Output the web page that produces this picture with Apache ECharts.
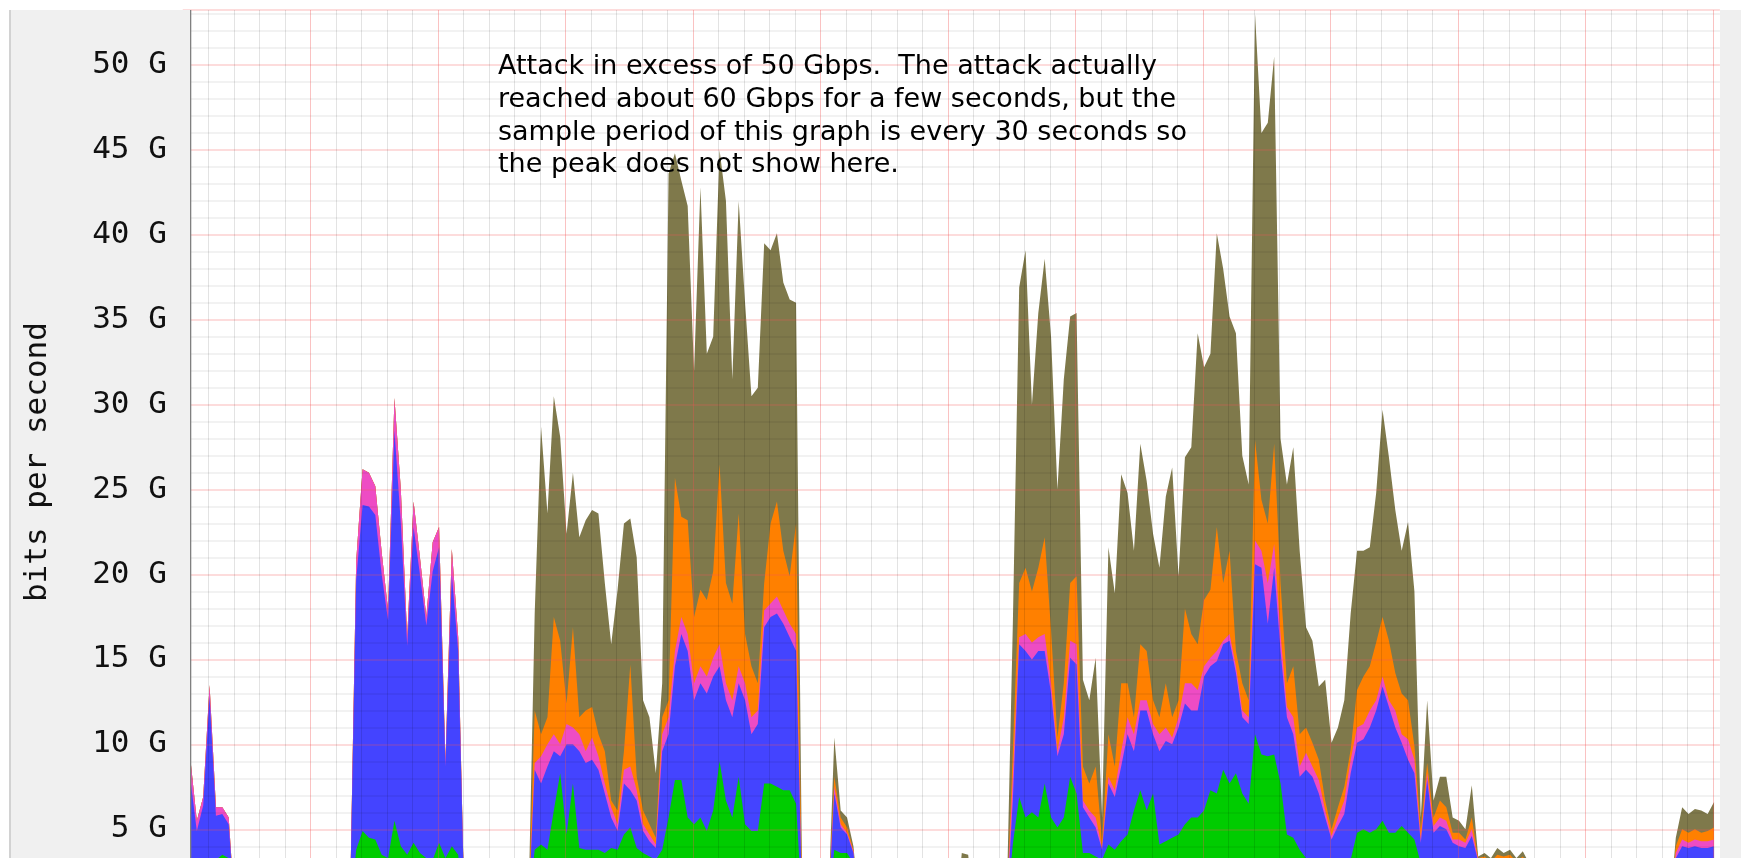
<!DOCTYPE html>
<html>
<head>
<meta charset="utf-8">
<script src="https://cdn.jsdelivr.net/npm/echarts@6/dist/echarts.min.js"></script>
<style>
  html, body { margin: 0; padding: 0; background: #fff; }
  #chart { width: 1741px; height: 858px; }
</style>
</head>
<body>
<div id="chart"></div>
<script>
// samples are taken every quarter of a minor grid step, starting just right of the axis
const sampleStart = 0.3
const sampleStep = 0.25

// cumulative tops of the stacked traffic, in Gbit/s
const totalTop = [
  9.1, 5.5, 6.9, 13.5, 6.3, 6.3, 5.7, 0, 0, 0, 0, 0, 0, 0, 0, 0, 0, 0, 0, 0,
  0, 0, 0, 0, 0, 0, 20.8, 26.2, 26.0, 25.2, 21.3, 17.9, 30.4, 25.0, 16.3, 24.3, 21.0, 17.5, 21.9, 22.8,
  9.0, 21.5, 16.3, 0, 0, 0, 0, 0, 0, 0, 0, 0, 0, 0, 17.7, 28.7, 23.6, 30.5, 28.1, 22.4,
  26.0, 22.2, 23.2, 23.8, 23.6, 19.5, 15.9, 19.1, 23.0, 23.3, 21.0, 12.6, 11.6, 8.3, 13.6, 43.6, 44.8, 43.2, 41.7, 32.0,
  42.8, 33.0, 34.0, 45.0, 42.0, 31.5, 42.0, 36.0, 30.5, 31.0, 39.5, 39.1, 40.1, 37.2, 36.2, 36.0, 0, 0, 0, 0,
  0, 10.4, 6.1, 5.7, 4.0, 0, 0, 0, 0, 0, 0, 0, 0, 0, 0, 0, 0, 0, 0, 0,
  0, 3.6, 3.5, 0, 0, 0, 0, 0, 0, 17.0, 36.9, 39.1, 30.0, 35.4, 38.6, 34.0, 25.0, 31.5, 35.2, 35.4,
  13.8, 12.6, 15.1, 5.7, 21.6, 18.9, 25.9, 24.8, 21.4, 27.7, 25.5, 22.4, 20.4, 24.6, 26.3, 19.9, 26.9, 27.5, 34.2, 32.2,
  33.0, 40.1, 38.0, 35.2, 34.2, 27.0, 25.3, 53.0, 46.0, 46.6, 50.5, 28.0, 25.3, 27.5, 21.4, 16.9, 16.1, 13.4, 13.8, 10.1,
  11.0, 12.6, 17.7, 21.4, 21.4, 21.6, 24.8, 29.7, 26.9, 23.8, 21.4, 23.1, 19.0, 5.7, 12.6, 6.7, 8.1, 8.1, 5.7, 5.5,
  5.0, 7.6, 3.4, 3.6, 3.3, 3.9, 3.6, 3.8, 3.3, 3.7, 3.0, 0, 0, 0, 0, 0, 0, 0, 0, 0,
  0, 0, 0, 0, 0, 0, 0, 0, 0, 0, 0, 0, 0, 4.5, 6.3, 5.9, 6.2, 6.1, 5.9, 6.6
]
const orangeTop = [
  9.1, 5.5, 6.9, 13.5, 6.3, 6.3, 5.7, 0, 0, 0, 0, 0, 0, 0, 0, 0, 0, 0, 0, 0,
  0, 0, 0, 0, 0, 0, 20.8, 26.2, 26.0, 25.2, 21.3, 17.9, 30.4, 25.0, 16.3, 24.3, 21.0, 17.5, 21.9, 22.8,
  9.0, 21.5, 16.3, 0, 0, 0, 0, 0, 0, 0, 0, 0, 0, 0, 12.0, 10.6, 11.6, 17.5, 16.1, 12.4,
  16.9, 11.6, 12.0, 12.2, 10.6, 9.6, 6.7, 6.1, 9.6, 14.7, 8.1, 6.1, 5.3, 4.5, 11.6, 12.6, 25.7, 23.4, 23.2, 17.5,
  19.1, 18.5, 20.2, 26.5, 19.5, 18.3, 23.6, 16.5, 14.6, 13.6, 19.5, 23.0, 24.3, 21.4, 19.9, 23.0, 0, 0, 0, 0,
  0, 8.1, 5.7, 5.1, 3.8, 0, 0, 0, 0, 0, 0, 0, 0, 0, 0, 0, 0, 0, 0, 0,
  0, 2.0, 2.0, 0, 0, 0, 0, 0, 0, 9.6, 19.5, 20.4, 19.0, 20.4, 22.2, 16.7, 10.4, 13.6, 19.5, 19.9,
  8.7, 7.7, 8.7, 4.3, 10.6, 8.7, 13.6, 13.6, 11.6, 15.9, 15.5, 12.6, 11.6, 13.6, 11.6, 12.6, 18.0, 16.5, 15.9, 18.5,
  19.1, 22.8, 19.5, 21.4, 15.5, 13.6, 12.6, 27.9, 24.4, 23.0, 27.7, 19.5, 13.6, 14.6, 10.6, 11.0, 10.1, 9.1, 6.7, 5.0,
  6.3, 7.5, 9.7, 13.2, 14.0, 14.6, 16.0, 17.5, 16.1, 14.2, 13.0, 12.6, 9.9, 5.0, 8.9, 5.7, 6.7, 6.3, 4.8, 4.8,
  4.4, 5.7, 3.3, 3.4, 3.1, 3.5, 3.4, 3.5, 3.1, 3.4, 2.8, 0, 0, 0, 0, 0, 0, 0, 0, 0,
  0, 0, 0, 0, 0, 0, 0, 0, 0, 0, 0, 0, 0, 4.0, 5.0, 4.8, 5.0, 4.8, 4.9, 5.1
]
const pinkTop = [
  9.1, 5.5, 6.9, 13.5, 6.3, 6.3, 5.7, 0, 0, 0, 0, 0, 0, 0, 0, 0, 0, 0, 0, 0,
  0, 0, 0, 0, 0, 0, 20.8, 26.2, 26.0, 25.2, 21.3, 17.9, 30.4, 25.0, 16.3, 24.3, 21.0, 17.5, 21.9, 22.8,
  9.0, 21.5, 16.3, 0, 0, 0, 0, 0, 0, 0, 0, 0, 0, 0, 8.9, 9.3, 10.0, 10.6, 10.0, 11.2,
  11.0, 10.6, 9.6, 10.4, 9.3, 7.7, 6.3, 5.3, 8.5, 8.7, 7.3, 5.3, 4.7, 4.1, 10.6, 11.6, 15.5, 17.5, 16.5, 13.6,
  14.6, 14.0, 15.1, 15.9, 13.6, 12.6, 14.6, 13.6, 11.6, 12.0, 17.9, 18.3, 18.7, 17.9, 17.1, 16.5, 0, 0, 0, 0,
  0, 7.5, 5.3, 4.8, 3.7, 0, 0, 0, 0, 0, 0, 0, 0, 0, 0, 0, 0, 0, 0, 0,
  0, 2.0, 2.0, 0, 0, 0, 0, 0, 0, 8.1, 16.3, 16.5, 16.0, 16.3, 16.5, 13.6, 9.6, 11.6, 16.1, 15.9,
  6.7, 6.1, 5.7, 3.9, 8.1, 7.3, 9.6, 11.6, 10.6, 12.6, 12.6, 11.2, 10.6, 11.0, 10.4, 11.6, 13.6, 13.6, 13.2, 14.6,
  15.1, 15.5, 16.1, 16.5, 14.6, 12.0, 11.6, 22.0, 21.4, 19.5, 21.8, 16.5, 12.2, 11.6, 8.7, 9.5, 8.7, 7.9, 6.1, 4.6,
  5.7, 6.7, 9.1, 11.0, 11.2, 12.0, 12.6, 14.0, 12.6, 12.0, 10.6, 10.3, 9.1, 4.4, 8.3, 5.2, 5.7, 5.5, 4.4, 4.4,
  4.2, 5.0, 3.2, 3.2, 3.0, 3.3, 3.2, 3.3, 3.0, 3.2, 2.6, 0, 0, 0, 0, 0, 0, 0, 0, 0,
  0, 0, 0, 0, 0, 0, 0, 0, 0, 0, 0, 0, 0, 3.6, 4.4, 4.2, 4.4, 4.3, 4.3, 4.4
]
const blueTop = [
  7.9, 4.9, 6.4, 12.8, 5.8, 5.9, 5.3, 0, 0, 0, 0, 0, 0, 0, 0, 0, 0, 0, 0, 0,
  0, 0, 0, 0, 0, 0, 19.7, 24.1, 24.0, 23.5, 20.0, 17.3, 28.5, 23.0, 15.8, 22.8, 20.0, 17.0, 20.2, 21.6,
  8.7, 20.0, 15.5, 0, 0, 0, 0, 0, 0, 0, 0, 0, 0, 0, 8.5, 7.7, 8.7, 9.6, 9.3, 10.0,
  10.0, 9.6, 8.9, 9.1, 8.5, 7.1, 5.7, 4.9, 7.7, 7.3, 6.7, 4.9, 4.3, 3.9, 9.6, 10.6, 14.6, 16.5, 15.5, 12.6,
  13.6, 13.0, 14.0, 14.6, 12.6, 11.6, 13.6, 12.6, 10.6, 11.2, 16.9, 17.5, 17.7, 17.1, 16.3, 15.5, 0, 0, 0, 0,
  0, 7.1, 5.1, 4.7, 3.6, 0, 0, 0, 0, 0, 0, 0, 0, 0, 0, 0, 0, 0, 0, 0,
  0, 2.0, 2.0, 0, 0, 0, 0, 0, 0, 6.7, 15.9, 15.5, 15.0, 15.5, 15.5, 13.0, 9.3, 10.6, 15.1, 14.7,
  6.3, 5.7, 5.1, 3.8, 7.7, 6.9, 8.7, 10.6, 9.6, 12.0, 12.0, 10.6, 9.6, 10.2, 10.0, 11.0, 12.4, 12.0, 12.0, 14.0,
  14.6, 14.9, 15.9, 16.1, 14.2, 11.6, 11.2, 20.6, 20.4, 17.1, 20.4, 15.5, 11.6, 10.6, 8.1, 8.5, 8.1, 7.1, 5.7, 4.4,
  5.2, 5.9, 8.3, 10.1, 10.3, 11.0, 12.0, 13.4, 12.2, 11.0, 10.1, 9.1, 8.3, 4.2, 7.9, 4.8, 5.2, 5.0, 4.2, 4.0,
  3.9, 4.6, 3.1, 3.0, 2.8, 3.0, 3.0, 3.0, 2.8, 3.0, 2.4, 0, 0, 0, 0, 0, 0, 0, 0, 0,
  0, 0, 0, 0, 0, 0, 0, 0, 0, 0, 0, 0, 0, 3.3, 4.0, 3.9, 4.0, 3.9, 3.9, 4.0
]
const greenTop = [
  2.5, 2.5, 2.8, 3.0, 3.2, 3.5, 3.3, 0, 0, 0, 0, 0, 0, 0, 0, 0, 0, 0, 0, 0,
  0, 0, 0, 0, 0, 0, 3.8, 4.9, 4.5, 4.4, 3.5, 3.3, 5.5, 4.0, 3.5, 4.2, 3.6, 3.3, 3.2, 4.2,
  3.3, 4.0, 3.5, 0, 0, 0, 0, 0, 0, 0, 0, 0, 0, 0, 3.8, 4.1, 3.8, 6.1, 8.3, 4.7,
  7.7, 3.9, 3.8, 3.8, 3.8, 3.6, 3.9, 3.8, 4.7, 5.1, 3.9, 3.6, 3.4, 3.2, 3.8, 5.7, 7.9, 7.9, 5.7, 5.3,
  5.7, 4.9, 6.1, 9.0, 6.7, 5.7, 8.1, 5.3, 4.9, 4.9, 7.7, 7.7, 7.5, 7.3, 7.3, 6.5, 0, 0, 0, 0,
  0, 3.8, 3.6, 3.6, 3.0, 0, 0, 0, 0, 0, 0, 0, 0, 0, 0, 0, 0, 0, 0, 0,
  0, 1.0, 1.0, 0, 0, 0, 0, 0, 0, 4.1, 6.9, 5.7, 6.0, 5.7, 7.7, 5.7, 5.1, 5.7, 8.1, 7.1,
  3.6, 3.6, 3.4, 3.2, 4.1, 3.8, 4.3, 4.7, 6.1, 7.3, 6.1, 7.1, 4.1, 4.3, 4.5, 4.7, 5.3, 5.7, 5.7, 6.1,
  7.3, 7.1, 8.5, 7.7, 8.3, 7.1, 6.5, 10.6, 9.4, 9.3, 9.4, 7.7, 4.7, 4.5, 3.8, 3.3, 3.0, 3.0, 3.0, 3.0,
  3.0, 3.0, 3.2, 4.8, 5.0, 4.8, 5.0, 5.5, 4.8, 4.8, 5.2, 4.8, 4.4, 3.0, 3.0, 2.8, 2.8, 2.8, 2.5, 2.5,
  2.5, 2.5, 2.0, 2.0, 2.0, 2.0, 2.0, 2.0, 2.0, 2.0, 1.8, 0, 0, 0, 0, 0, 0, 0, 0, 0,
  0, 0, 0, 0, 0, 0, 0, 0, 0, 0, 0, 0, 0, 2.0, 2.5, 2.5, 2.5, 2.5, 2.5, 2.5
]

const noteLines = [
  'Attack in excess of 50 Gbps.  The attack actually',
  'reached about 60 Gbps for a few seconds, but the',
  'sample period of this graph is every 30 seconds so',
  'the peak does not show here.'
]

const monoFont = '"DejaVu Sans Mono", monospace'
const toPoints = (arr) => arr.map((v, i) => [sampleStart + i * sampleStep, v])

// drawn back to front so each layer sits over the one above it
const layers = [
  { name: 'other', data: totalTop, color: '#7f794b' },
  { name: 'orange', data: orangeTop, color: '#ff8000' },
  { name: 'pink', data: pinkTop, color: '#ee4cc4' },
  { name: 'blue', data: blueTop, color: '#4444ff' },
  { name: 'green', data: greenTop, color: '#00cc00' }
]

const chart = echarts.init(document.getElementById('chart'), null, { renderer: 'canvas' })

const option = {
  animation: false,
  backgroundColor: '#ffffff',
  grid: {
    left: 182.8,
    top: 10,
    width: 1537.1,
    height: 904.2,
    containLabel: false,
    outerBoundsMode: 'none'
  },
  xAxis: {
    type: 'value',
    min: 0,
    max: 60.28,
    interval: 5,
    z: 10,
    axisLine: { show: false },
    axisTick: { show: false },
    axisLabel: { show: false },
    splitLine: { show: true, lineStyle: { color: 'rgba(240,80,80,0.35)', width: 1 } },
    minorTick: { show: false, splitNumber: 5 },
    minorSplitLine: { show: true, lineStyle: { color: 'rgba(0,0,0,0.11)', width: 1 } }
  },
  yAxis: [
    {
      type: 'value',
      min: 0,
      max: 53.24,
      interval: 5,
      z: 10,
      axisLine: { show: false },
      axisTick: { show: false },
      axisLabel: { show: false },
      splitLine: { show: true, lineStyle: { color: 'rgba(245,90,90,0.28)', width: 1.5 } },
      minorTick: { show: false, splitNumber: 5 },
      minorSplitLine: { show: true, lineStyle: { color: 'rgba(0,0,0,0.07)', width: 1.5 } }
    },
    {
      type: 'value',
      position: 'left',
      min: 0,
      max: 53.24,
      interval: 5,
      z: 12,
      name: 'bits per second',
      nameLocation: 'middle',
      nameRotate: 90,
      nameGap: 129,
      nameTextStyle: { fontFamily: monoFont, fontSize: 31, color: '#111' },
      axisLine: { show: false },
      axisTick: { show: false },
      splitLine: { show: false },
      axisLabel: {
        margin: 16,
        showMaxLabel: false,
        fontFamily: monoFont,
        fontSize: 31,
        color: '#111',
        formatter: (v) => v + ' G'
      }
    }
  ],
  graphic: [
    // grey frame left of the plot
    { type: 'rect', z: 11, shape: { x: 10, y: 10, width: 180.5, height: 848 }, style: { fill: '#f0f0f0' } },
    { type: 'rect', z: 11, shape: { x: 9, y: 10, width: 2, height: 848 }, style: { fill: '#d2d2d2' } },
    { type: 'rect', z: 11, shape: { x: 190, y: 10, width: 1.3, height: 848 }, style: { fill: '#808080' } },
    // grey frame right of the plot
    { type: 'rect', z: 11, shape: { x: 1720, y: 10, width: 21, height: 848 }, style: { fill: '#efefef' } },
    {
      type: 'text',
      z: 11,
      left: 498,
      top: 51,
      style: {
        text: noteLines.join('\n'),
        fontFamily: '"DejaVu Sans", sans-serif',
        fontSize: 27,
        lineHeight: 32.7,
        fill: '#000'
      }
    }
  ],
  series: layers.map((l) => ({
    name: l.name,
    type: 'line',
    yAxisIndex: 0,
    data: toPoints(l.data),
    showSymbol: false,
    symbol: 'none',
    sampling: null,
    z: 2,
    lineStyle: { width: 0, color: l.color },
    itemStyle: { color: l.color },
    areaStyle: { color: l.color, opacity: 1 }
  }))
}

chart.setOption(option)
</script>
</body>
</html>
